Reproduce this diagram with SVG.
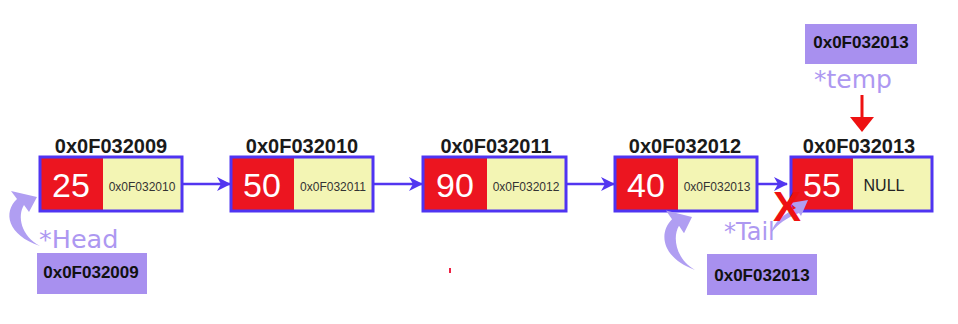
<svg xmlns="http://www.w3.org/2000/svg" width="958" height="324" viewBox="0 0 958 324">
  <style>
    .frame { fill: none; stroke: #4f34f2; stroke-width: 3; }
    .data { fill: #ec1520; }
    .next { fill: #f3f5b4; }
    .val { font-family: "Liberation Sans", Arial, sans-serif; font-size: 34px; fill: #ffffff; text-anchor: middle; }
    .ptr { font-family: "Liberation Sans", Arial, sans-serif; font-size: 12px; fill: #333333; text-anchor: middle; }
    .null { font-family: "Liberation Sans", Arial, sans-serif; font-size: 16px; fill: #222222; text-anchor: middle; }
    .addr { font-family: "Liberation Sans", Arial, sans-serif; font-size: 20px; font-weight: bold; fill: #1a1a1a; text-anchor: middle; }
    .tag { fill: #a890ef; }
    .tagtxt { font-family: "Liberation Sans", Arial, sans-serif; font-size: 17px; font-weight: bold; fill: #111111; text-anchor: middle; }
    .name { font-family: "DejaVu Sans", Verdana, sans-serif; fill: #ad98f1; }
    .link { stroke: #5236f0; stroke-width: 2.5; fill: none; }
    .curl { fill: #b09ef2; }
  </style>
  <defs>
    <marker id="arrow" markerWidth="14" markerHeight="14" refX="13" refY="7" orient="auto" markerUnits="userSpaceOnUse">
      <path d="M0,0 L14,7 L0,14 L4,7 Z" fill="#5236f0"/>
    </marker>
    <!-- tapered curved pointer arrow, tip at the origin -->
    <path id="curl" d="M0,0 L-26,-6 L-20,2 C-34,15 -30,38 3,49 C-16,39 -20,19 -13,8 L-8,15 Z"/>
  </defs>

  <!-- links between nodes -->
  <g id="connectors">
    <line class="link" x1="183" y1="184" x2="230" y2="184" marker-end="url(#arrow)"/>
    <line class="link" x1="373" y1="184" x2="422" y2="184" marker-end="url(#arrow)"/>
    <line class="link" x1="567" y1="184" x2="614" y2="184" marker-end="url(#arrow)"/>
    <line class="link" x1="758" y1="184" x2="787" y2="184" marker-end="url(#arrow)"/>
  </g>

  <g id="node1">
    <text class="addr" x="111" y="153">0x0F032009</text>
    <rect class="data" x="40" y="157" width="63" height="54"/>
    <rect class="next" x="103" y="157" width="79" height="54"/>
    <rect class="frame" x="40" y="157" width="142" height="54"/>
    <text class="val" x="71" y="197">25</text>
    <text class="ptr" x="142" y="191">0x0F032010</text>
  </g>

  <g id="node2">
    <text class="addr" x="302" y="153">0x0F032010</text>
    <rect class="data" x="231" y="157" width="63" height="54"/>
    <rect class="next" x="294" y="157" width="79" height="54"/>
    <rect class="frame" x="231" y="157" width="142" height="54"/>
    <text class="val" x="262" y="197">50</text>
    <text class="ptr" x="333" y="191">0x0F032011</text>
  </g>

  <g id="node3">
    <text class="addr" x="496" y="153">0x0F032011</text>
    <rect class="data" x="423" y="157" width="64" height="54"/>
    <rect class="next" x="487" y="157" width="79" height="54"/>
    <rect class="frame" x="423" y="157" width="143" height="54"/>
    <text class="val" x="455" y="197">90</text>
    <text class="ptr" x="526" y="191">0x0F032012</text>
  </g>

  <g id="node4">
    <text class="addr" x="685" y="153">0x0F032012</text>
    <rect class="data" x="615" y="157" width="63" height="54"/>
    <rect class="next" x="678" y="157" width="79" height="54"/>
    <rect class="frame" x="615" y="157" width="142" height="54"/>
    <text class="val" x="646" y="197">40</text>
    <text class="ptr" x="717" y="191">0x0F032013</text>
  </g>

  <g id="node5">
    <text class="addr" x="859" y="153">0x0F032013</text>
    <rect class="data" x="791" y="157" width="62" height="54"/>
    <rect class="next" x="853" y="157" width="79" height="54"/>
    <rect class="frame" x="791" y="157" width="141" height="54"/>
    <text class="val" x="822" y="197">55</text>
    <text class="null" x="884" y="191">NULL</text>
  </g>

  <!-- head pointer -->
  <g id="head">
    <use href="#curl" class="curl" transform="translate(37,197)"/>
    <text class="name" x="39" y="248" font-size="25.5">*Head</text>
    <rect class="tag" x="37" y="253" width="110" height="41"/>
    <text class="tagtxt" x="91" y="278">0x0F032009</text>
  </g>

  <!-- tail pointer -->
  <g id="tail">
    <use href="#curl" class="curl" transform="translate(692,217) scale(1,1.08)"/>
    <path class="curl" d="M808,200 L790,203 L796,208 C784,214 774,222 771,233 C778,224 786,218 799,213 L801,216 Z"/>
    <text class="name" x="724" y="240" font-size="24">*Tail</text>
    <rect class="tag" x="707" y="254" width="110" height="41"/>
    <text class="tagtxt" x="762" y="281">0x0F032013</text>
  </g>

  <!-- removed link mark -->
  <g id="cut">
    <text x="787" y="221" font-family="Liberation Sans, Arial, sans-serif" font-size="42" font-weight="bold" fill="#ee1111" text-anchor="middle">X</text>
  </g>

  <!-- temp pointer -->
  <g id="temp">
    <rect class="tag" x="805" y="24" width="112" height="40"/>
    <text class="tagtxt" x="861" y="48">0x0F032013</text>
    <text class="name" x="814" y="88" font-size="25">*temp</text>
    <line x1="862" y1="95" x2="862" y2="119" stroke="#ee1111" stroke-width="3"/>
    <path d="M850,117 L874,117 L862,132 Z" fill="#ee1111"/>
  </g>

  <rect x="449" y="268" width="2" height="5" fill="#ee2244"/>
</svg>
